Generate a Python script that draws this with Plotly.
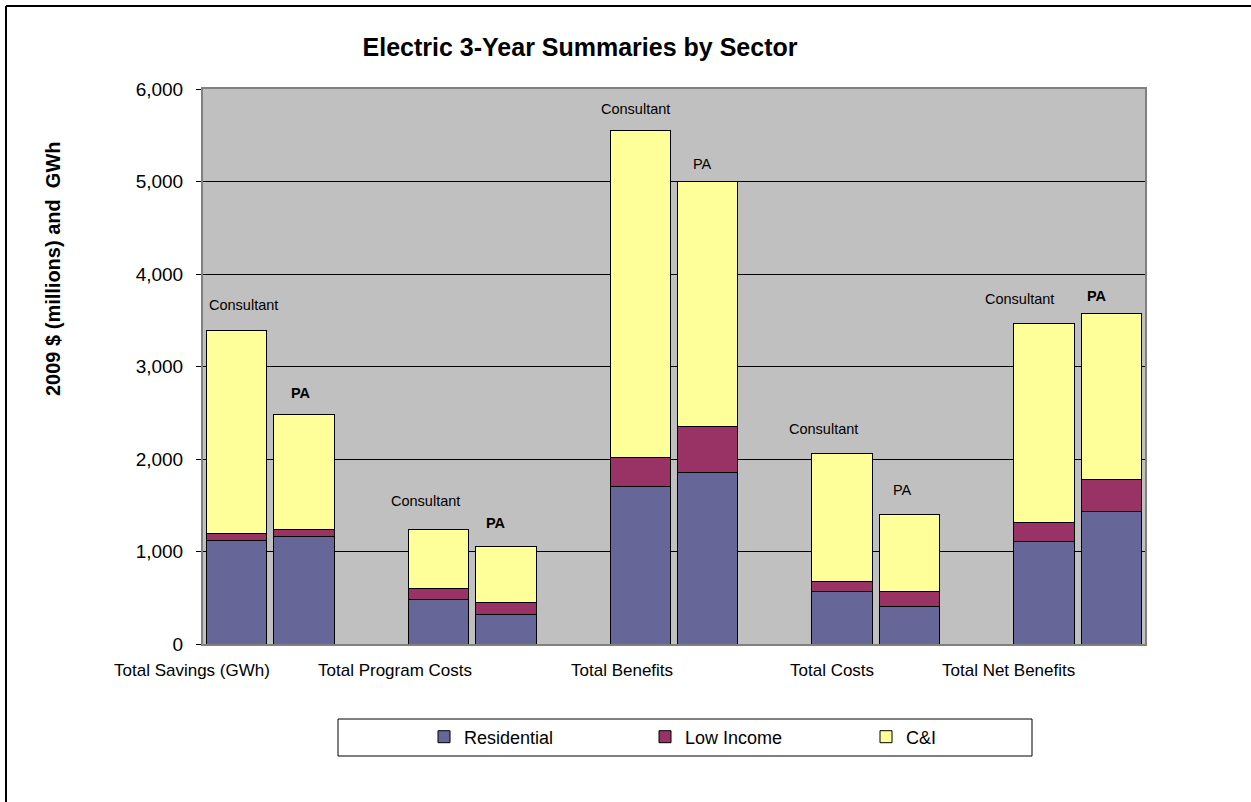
import plotly.graph_objects as go

# ---- data ----
categories = ["Total Savings (GWh)", "Total Program Costs", "Total Benefits",
              "Total Costs", "Total Net Benefits"]
sources = ["Consultant", "PA"]
sectors = ["Residential", "Low Income", "C&I"]

residential_consultant = [1124, 476, 1701, 565, 1104]
residential_pa = [1157, 324, 1858, 410, 1428]
low_income_consultant = [76, 129, 315, 115, 209]
low_income_pa = [86, 130, 496, 155, 349]
ci_consultant = [2184, 638, 3535, 1378, 2155]
ci_pa = [1243, 595, 2642, 838, 1791]

y_ticks = [0, 1000, 2000, 3000, 4000, 5000, 6000]

# ---- styling / layout constants ----
FONT = "Liberation Sans, Arial, sans-serif"
colors = {"Residential": "#666699", "Low Income": "#993366", "C&I": "#FFFF99"}
W, H = 1251, 802
ML, MR, MT, MB = 203, 106, 89, 158
PW, PH = W - ML - MR, H - MT - MB

def px_x(p):  # pixel -> paper x
    return (p - ML) / PW

def px_y(p):  # pixel -> paper y
    return (H - MB - p) / PH

# x slots: each category has Consultant, PA, then an empty slot
def slot(ci, si):
    return ci * 3 + si

# per-bar label offsets (pixels) for the Consultant / PA captions
label_dx = [7, -3, -13, -10, -5, -5, -19, -7, -25, -14]
label_dy = [26, 21, 28, 24, 22, 18, 25, 24, 24, 18]
label_bold = [False, True, False, True, False, False, False, False, False, True]
# category label centers in pixels
cat_label_px = [192, 395, 622, 832, 1008]

series = {
    "Residential": {"Consultant": residential_consultant, "PA": residential_pa},
    "Low Income": {"Consultant": low_income_consultant, "PA": low_income_pa},
    "C&I": {"Consultant": ci_consultant, "PA": ci_pa},
}

fig = go.Figure()
for sec in sectors:
    xs, ys = [], []
    for ci in range(len(categories)):
        for si, src in enumerate(sources):
            xs.append(slot(ci, si))
            ys.append(series[sec][src][ci])
    fig.add_trace(go.Bar(
        x=xs, y=ys, name=sec,
        marker=dict(color=colors[sec], line=dict(color="#000000", width=1)),
        width=0.9,
    ))

annotations = []
k = 0
for ci in range(len(categories)):
    for si, src in enumerate(sources):
        total = sum(series[sec][src][ci] for sec in sectors)
        txt = f"<b>{src}</b>" if label_bold[k] else src
        annotations.append(dict(
            x=slot(ci, si), y=total, xref="x", yref="y", text=txt,
            showarrow=False, xshift=label_dx[k], yshift=label_dy[k],
            font=dict(family=FONT, size=14.5, color="#000000"),
            xanchor="center", yanchor="middle"))
        k += 1

for name, p in zip(categories, cat_label_px):
    annotations.append(dict(
        x=px_x(p), y=px_y(670), xref="paper", yref="paper", text=name,
        showarrow=False, font=dict(family=FONT, size=17, color="#000000"),
        xanchor="center", yanchor="middle"))

annotations.append(dict(
    x=px_x(53), y=px_y(269), xref="paper", yref="paper",
    text="<b>2009 $ (millions) and  GWh</b>", textangle=-90,
    showarrow=False, font=dict(family=FONT, size=20, color="#000000"),
    xanchor="center", yanchor="middle"))

shapes = [
    # outer chart border (top and left visible)
    dict(type="line", xref="paper", yref="paper",
         x0=px_x(6), x1=px_x(1260), y0=px_y(6), y1=px_y(6),
         line=dict(color="#000000", width=2)),
    dict(type="line", xref="paper", yref="paper",
         x0=px_x(6), x1=px_x(6), y0=px_y(6), y1=px_y(810),
         line=dict(color="#000000", width=2)),
    # legend box
    dict(type="rect", xref="paper", yref="paper",
         x0=px_x(338), x1=px_x(1032), y0=px_y(719), y1=px_y(756),
         line=dict(color="#000000", width=1), fillcolor="rgba(0,0,0,0)"),
]

fig.update_layout(
    width=W, height=H,
    margin=dict(l=ML, r=MR, t=MT, b=MB, pad=0),
    paper_bgcolor="#FFFFFF", plot_bgcolor="#C0C0C0",
    barmode="stack",
    font=dict(family=FONT, color="#000000"),
    title=dict(text="<b>Electric 3-Year Summaries by Sector</b>",
               x=580 / W, xref="container", xanchor="center",
               y=1 - 47 / H, yref="container", yanchor="middle",
               font=dict(family=FONT, size=25, color="#000000")),
    xaxis=dict(range=[-0.5, 13.5], showticklabels=False, showgrid=False,
               zeroline=False, showline=True, linecolor="#808080",
               linewidth=2, mirror=True, ticks=""),
    yaxis=dict(range=[0, 6000], tickvals=y_ticks, tickformat=",d",
               showgrid=True, gridcolor="#000000", gridwidth=1,
               zeroline=False, showline=True, linecolor="#808080",
               linewidth=2, mirror=True, ticks="outside", ticklen=5,
               tickcolor="#000000", ticklabelstandoff=9,
               tickfont=dict(family=FONT, size=19, color="#000000")),
    showlegend=True,
    legend=dict(orientation="h", xref="container", yref="container",
                x=424 / W, xanchor="left", y=1 - 737 / H, yanchor="middle",
                entrywidth=176, entrywidthmode="pixels",
                bgcolor="rgba(0,0,0,0)", borderwidth=0,
                font=dict(family=FONT, size=18, color="#000000"),
                traceorder="normal"),
    annotations=annotations,
    shapes=shapes,
)

fig.write_html("out.html")
